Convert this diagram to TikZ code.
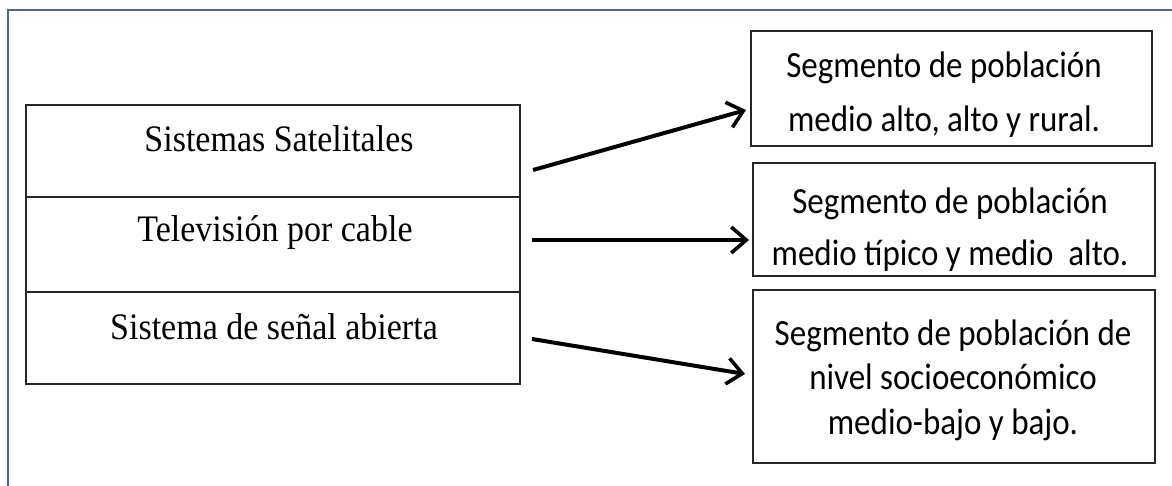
\documentclass[tikz,border=0pt]{standalone}
\usepackage{fontspec}
\setmainfont{Liberation Serif}
\newfontfamily\calibfont{Carlito}
\usetikzlibrary{arrows.meta}
\definecolor{framecol}{HTML}{4A6896}
\newcommand{\tallt}[1]{\scalebox{1}[1.1]{#1}}
\newcommand{\tallc}[2]{\scalebox{1}[1.12]{\fontsize{33}{#1}\selectfont\begin{tabular}{@{}c@{}}#2\end{tabular}}}
\begin{document}
\begin{tikzpicture}[x=1pt,y=-1pt,
  rowbox/.style={draw=black!85,line width=1.3pt,minimum width=494pt,inner sep=0pt,outer sep=0pt},
  rowtext/.style={font=\fontsize{34}{40}\selectfont,inner sep=0pt,anchor=base},
  segbox/.style={draw=black!85,line width=1.3pt,inner sep=0pt,outer sep=0pt},
  segtext/.style={font=\calibfont,inner sep=0pt},
  conn/.style={line width=4pt,-{Straight Barb[length=15pt,width=26pt,line width=3.6pt]}}]
\useasboundingbox (0,0) rectangle (1172,486);
\fill[white] (0,0) rectangle (1172,486);
% outer frame (only top and left edges are visible)
\coordinate (fTop) at (1172,10);
\coordinate (fCorner) at (8,10);
\coordinate (fBot) at (8,486);
\draw[framecol,line width=2.6pt] (fTop) -- (fCorner) -- (fBot);
% left table
\node[rowbox,minimum height=92pt] (r1) at (273,151) {};
\node[rowbox,minimum height=95pt] (r2) at (273,244.5) {};
\node[rowbox,minimum height=92pt] (r3) at (273,338) {};
\node[rowtext] (t1) at (279,152) {\tallt{Sistemas Satelitales}};
\node[rowtext] (t2) at (275,242) {\tallt{Televisión por cable}};
\node[rowtext] (t3) at (274,339) {\tallt{Sistema de señal abierta}};
% right boxes
\node[segbox,minimum width=401pt,minimum height=115pt] (b1) at (951.5,88.5) {};
\node[segbox,minimum width=402pt,minimum height=113pt] (b2) at (954,219.5) {};
\node[segbox,minimum width=402pt,minimum height=173pt] (b3) at (954,376.5) {};
\node[segtext] (s1) at (944,94) {\tallc{48}{Segmento de población\\medio alto, alto y rural.}};
\node[segtext] (s2) at (950,229) {\tallc{46}{Segmento de población\\medio típico y medio\ \ alto.}};
\node[segtext] (s3) at (953,381) {\tallc{40}{Segmento de población de\\nivel socioeconómico\\medio-bajo y bajo.}};
% connectors
\draw[conn] ([shift={(13,19)}]r1.east) -- ([shift={(-5,21.5)}]b1.west);
\draw[conn] ([shift={(12,-4.5)}]r2.east) -- ([shift={(-4,20.5)}]b2.west);
\draw[conn] ([shift={(12,1)}]r3.east) -- ([shift={(-8,-2.5)}]b3.west);
\end{tikzpicture}
\end{document}
